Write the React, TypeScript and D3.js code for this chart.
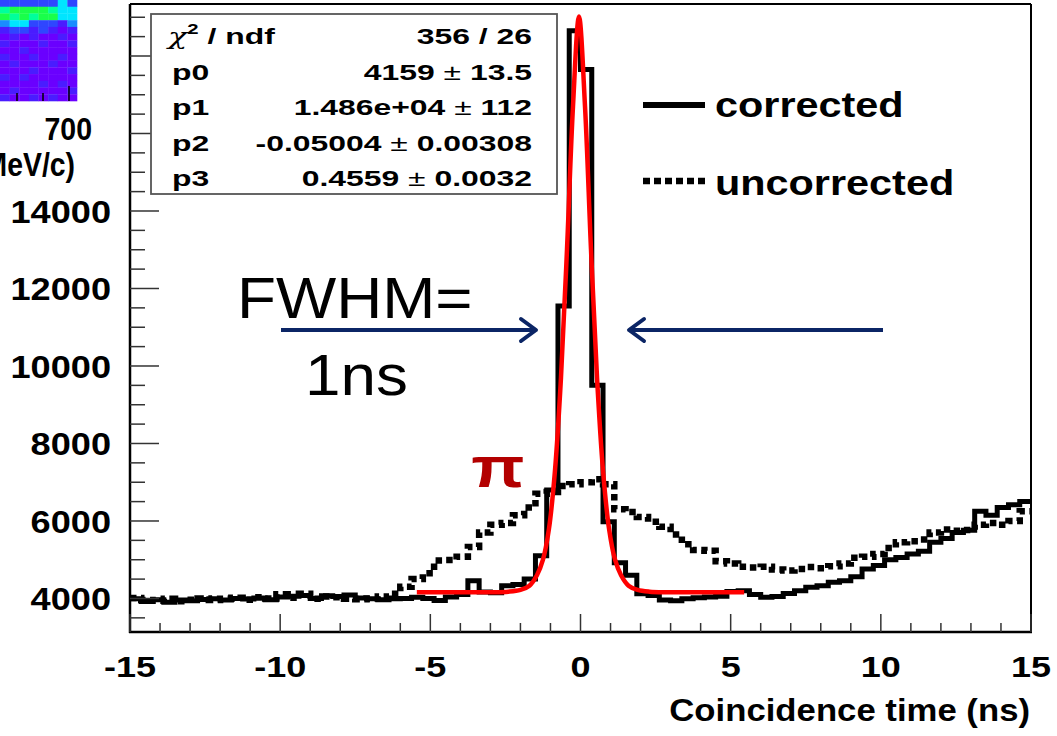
import React from 'react';
import * as d3 from 'd3';

const W = 1057;
const H = 736;

// Histogram definition: 80 bins over [-15, 15] ns
const histLow = -15;
const histHigh = 15;
const nBins = 80;

const corrected = [
  3990, 3920, 3970, 3900, 3960, 3940, 3975, 3990, 3960, 4000,
  3985, 4010, 3970, 4040, 4060, 4080, 4000, 4070, 4050, 4090,
  4010, 3990, 3970, 3990, 4000, 4030, 4000, 3950, 4040, 4100,
  4460, 4170, 4150, 4330, 4360, 4500, 5100, 6800, 11550, 18650,
  17650, 9500, 5980, 4920, 4600, 4120, 4080, 3960, 3940, 3990,
  4020, 4040, 4060, 4180, 4200, 4100, 4030, 4050, 4130, 4200,
  4290, 4330, 4420, 4460, 4560, 4760, 4850, 5000, 5060, 5150,
  5220, 5450, 5550, 5700, 5760, 6250, 6150, 6350, 6420, 6500,
];

const uncorrected = [
  4010, 3960, 3940, 3990, 3930, 3970, 4000, 3960, 3990, 4020,
  3970, 4030, 4000, 4110, 4020, 4120, 3990, 4050, 4030, 3990,
  3980, 4000, 4050, 4120, 4300, 4500, 4650, 4980, 4990, 5080,
  5330, 5700, 5900, 5950, 6150, 6350, 6700, 6750, 6900, 6950,
  7000, 7080, 6950, 6300, 6230, 6100, 5980, 5850, 5650, 5400,
  5250, 5230, 4960, 4900, 4820, 4800, 4820, 4750, 4720, 4760,
  4810, 4780, 4830, 4900, 5050, 5080, 5150, 5300, 5450, 5480,
  5520, 5700, 5780, 5750, 5770, 5900, 5950, 5900, 6000, 6250,
];

// Fit curve (time in ns, counts)
const fitT = [-5.45, -4, -3, -2.4, -2.0, -1.7, -1.45, -1.25, -1.05, -0.85, -0.65, -0.45, -0.25, -0.05,
  0.15, 0.35, 0.55, 0.75, 0.95, 1.15, 1.35, 1.6, 1.9, 2.3, 2.9, 4, 5.45];
const fitV = [4159, 4160, 4162, 4175, 4220, 4330, 4600, 5000, 5800, 7300, 9700, 13000, 16700, 19020,
  16700, 13000, 9700, 7300, 5800, 5000, 4600, 4330, 4220, 4175, 4162, 4160, 4159];

const yMajorTicks = [4000, 6000, 8000, 10000, 12000, 14000, 16000, 18000];
const xMajorTicks = [-15, -10, -5, 0, 5, 10, 15];

const chi2Text = '356 / 26';
const statNames = ['p0', 'p1', 'p2', 'p3'];
const statValues = ['4159', '1.486e+04', '-0.05004', '0.4559'];
const statErrors = ['13.5', '112', '0.00308', '0.0032'];

const legendLabels = ['corrected', 'uncorrected'];

// Thumbnail (other plot, partially visible) colour-index grid
const thumbPalette = ['#6a00ff', '#4a1cff', '#2f46ff', '#1a8cff', '#00e5ff', '#00ff9c', '#19ff4a'];
const thumbGrid = [
  [2, 2, 2, 2, 2, 2, 4, 2],
  [5, 6, 6, 6, 6, 5, 4, 4],
  [6, 5, 6, 5, 6, 6, 4, 4],
  [3, 4, 4, 2, 2, 2, 1, 3],
  [1, 2, 2, 1, 2, 1, 0, 1],
  [0, 1, 0, 1, 0, 0, 1, 0],
  [1, 0, 0, 0, 1, 0, 0, 1],
  [0, 0, 1, 0, 0, 0, 0, 0],
  [1, 0, 0, 1, 0, 0, 1, 0],
  [0, 1, 0, 0, 0, 1, 0, 0],
  [0, 0, 0, 1, 0, 0, 0, 1],
  [1, 0, 1, 0, 0, 0, 0, 0],
  [0, 0, 0, 0, 1, 0, 1, 0],
  [0, 1, 0, 0, 0, 0, 0, 1],
  [1, 0, 0, 1, 0, 1, 0, 0],
];
const thumbTicks = [17, 43, 69];

const FONT = "'Liberation Sans', Arial, Helvetica, sans-serif";

const x = d3.scaleLinear().domain([histLow, histHigh]).range([130, 1031]);
const y = d3.scaleLinear().domain([3135, 19342]).range([632, 4]);

function stepPath(vals: number[]): string {
  const bw = (histHigh - histLow) / nBins;
  const edges = d3.range(nBins + 1).map((i) => x(histLow + i * bw));
  let p = `M${edges[0]},${y(vals[0])}`;
  vals.forEach((v, i) => {
    p += `H${edges[i + 1]}`;
    if (i < vals.length - 1) p += `V${y(vals[i + 1])}`;
  });
  return p;
}

type TProps = {
  x: number; y: number; sx?: number; size: number; weight?: string | number;
  anchor?: 'start' | 'middle' | 'end'; fill?: string; children?: React.ReactNode;
};
const T = ({ x, y, sx = 1, size, weight = 'bold', anchor = 'start', fill = '#000', children }: TProps) => (
  <text
    transform={`translate(${x},${y}) scale(${sx},1)`}
    fontSize={size}
    fontWeight={weight}
    textAnchor={anchor}
    fill={fill}
    fontFamily={FONT}
  >
    {children}
  </text>
);

export default function App() {
  const yMinor = d3.range(3500, 19001, 500).filter((v) => v % 2000 !== 0);
  const xMinor = d3.range(histLow, histHigh + 0.001, 1).filter((v) => v % 5 !== 0);
  const fitLine = d3
    .line<number>()
    .x((_, i) => x(fitT[i]))
    .y((v) => y(v))
    .curve(d3.curveCatmullRom.alpha(0.5));

  const thumbW = 77 / thumbGrid[0].length;
  const thumbH = 101 / thumbGrid.length;
  const statsRowY = (i: number) => 44 + i * 35.5;
  const navy = '#0b2565';
  const SF = 22;
  const SX = 1.45;

  return (
    <svg width={W} height={H} style={{ position: 'absolute', left: 0, top: 0, background: '#fff' }}>
      <rect x={0} y={0} width={W} height={H} fill="#fff" />

      {/* histograms */}
      <path d={stepPath(uncorrected)} fill="none" stroke="#000" strokeWidth={6.5} strokeDasharray="6.5 4.5" />
      <path d={stepPath(corrected)} fill="none" stroke="#000" strokeWidth={5} />
      <path d={fitLine(fitV) || ''} fill="none" stroke="#ff0000" strokeWidth={4.5} />

      {/* frame */}
      <line x1={130} y1={4} x2={1031} y2={4} stroke="#000" strokeWidth={2} />
      <line x1={1031} y1={4} x2={1031} y2={632} stroke="#000" strokeWidth={2} />
      <line x1={130} y1={4} x2={130} y2={633} stroke="#000" strokeWidth={2.5} />
      <line x1={129} y1={632} x2={1032} y2={632} stroke="#000" strokeWidth={2.5} />

      {/* y ticks */}
      {yMajorTicks.map((v) => (
        <line key={'ym' + v} x1={130} x2={159} y1={y(v)} y2={y(v)} stroke="#333" strokeWidth={1.5} />
      ))}
      {yMinor.map((v) => (
        <line key={'yn' + v} x1={130} x2={145} y1={y(v)} y2={y(v)} stroke="#333" strokeWidth={1.5} />
      ))}
      {/* x ticks */}
      {xMajorTicks.map((v) => (
        <line key={'xm' + v} x1={x(v)} x2={x(v)} y1={632} y2={614} stroke="#333" strokeWidth={1.5} />
      ))}
      {xMinor.map((v) => (
        <line key={'xn' + v} x1={x(v)} x2={x(v)} y1={632} y2={623} stroke="#333" strokeWidth={1.5} />
      ))}

      {/* tick labels */}
      {yMajorTicks.map((v) => (
        <T key={'yl' + v} x={111} y={y(v) + 12} size={32} sx={1.13} anchor="end">
          {String(v)}
        </T>
      ))}
      {xMajorTicks.map((v) => (
        <T key={'xl' + v} x={x(v)} y={677} size={30} sx={1.2} anchor="middle">
          {String(v)}
        </T>
      ))}
      <T x={1030} y={721} size={31} sx={1.12} anchor="end">
        Coincidence time (ns)
      </T>

      {/* stats box */}
      <rect x={151} y={14} width={406} height={180} fill="#fff" stroke="#555" strokeWidth={1.8} />
      <text transform={`translate(168,${statsRowY(0)}) scale(${SX},1)`} fontFamily={FONT} fontSize={SF} fill="#000">
        <tspan fontStyle="italic" fontFamily="'DejaVu Serif', serif">χ</tspan>
        <tspan fontSize={14} dy={-10} fontWeight="bold">2</tspan>
        <tspan dy={10} fontWeight="bold"> / ndf</tspan>
      </text>
      <T x={532} y={statsRowY(0)} size={SF} sx={SX} anchor="end">
        {chi2Text}
      </T>
      {statNames.map((n, i) => (
        <React.Fragment key={n}>
          <T x={172} y={statsRowY(i + 1)} size={SF} sx={SX}>
            {n}
          </T>
          <T x={532} y={statsRowY(i + 1)} size={SF} sx={SX} anchor="end">
            {statValues[i]}
            <tspan fontWeight="normal"> ± </tspan>
            {statErrors[i]}
          </T>
        </React.Fragment>
      ))}

      {/* legend */}
      <line x1={643} x2={705} y1={105} y2={105} stroke="#000" strokeWidth={6} />
      <line x1={643} x2={705} y1={181} y2={181} stroke="#000" strokeWidth={6.5} strokeDasharray="7 4" />
      <T x={715} y={117} size={36} sx={1.15}>
        {legendLabels[0]}
      </T>
      <T x={715} y={195} size={36} sx={1.15}>
        {legendLabels[1]}
      </T>

      {/* FWHM annotation */}
      <T x={237} y={318} size={58} sx={1.1} weight="normal">
        FWHM=
      </T>
      <T x={305} y={395} size={58} sx={1.1} weight="normal">
        1ns
      </T>
      <line x1={281} x2={536} y1={330} y2={330} stroke={navy} strokeWidth={4} />
      <polyline points="521,319 536,330 521,341" fill="none" stroke={navy} strokeWidth={4} strokeLinecap="round" strokeLinejoin="round" />
      <line x1={629} x2={883} y1={330} y2={330} stroke={navy} strokeWidth={4} />
      <polyline points="644,319 629,330 644,341" fill="none" stroke={navy} strokeWidth={4} strokeLinecap="round" strokeLinejoin="round" />

      {/* pi label */}
      <T x={498} y={487} size={58} sx={1.2} anchor="middle" fill="#b30000">
        π
      </T>

      {/* overlapping thumbnail of another plot */}
      <rect x={0} y={0} width={127} height={190} fill="#fff" />
      {thumbGrid.map((row, r) =>
        row.map((c, k) => (
          <rect
            key={`t${r}-${k}`}
            x={k * thumbW}
            y={r * thumbH}
            width={thumbW + 0.3}
            height={thumbH + 0.3}
            fill={thumbPalette[c]}
          />
        ))
      )}
      {thumbTicks.map((tx, i) => (
        <line key={'tt' + i} x1={tx} x2={tx} y1={101} y2={i === 2 ? 86 : 93} stroke="#000" strokeWidth={1.5} />
      ))}
      <T x={92} y={140} size={31} sx={0.92} anchor="end">
        700
      </T>
      <T x={75} y={176} size={33} sx={0.86} anchor="end">
        (MeV/c)
      </T>
    </svg>
  );
}
